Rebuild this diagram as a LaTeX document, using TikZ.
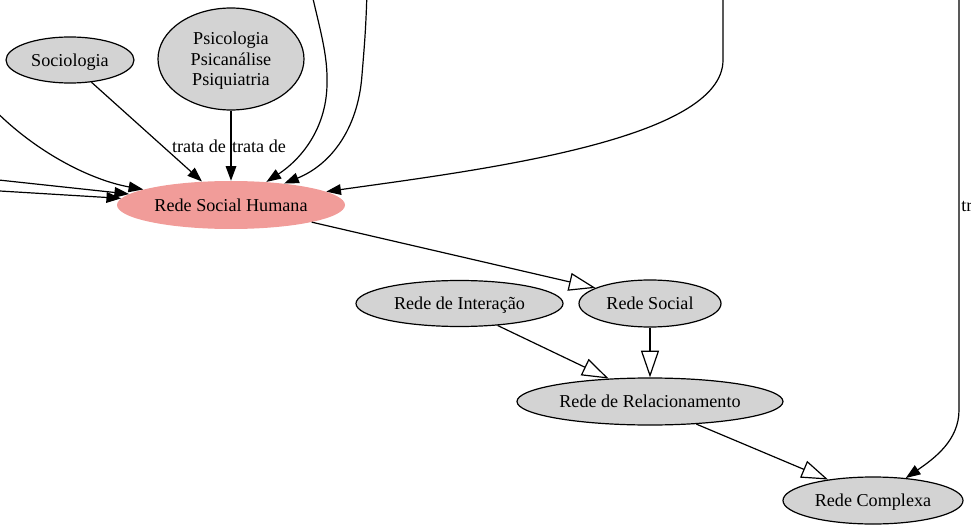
\documentclass[tikz,border=0pt]{standalone}
\usepackage{fontspec}
\setmainfont{Liberation Serif}
\usetikzlibrary{shapes.geometric,arrows.meta}
\definecolor{nodegray}{HTML}{D3D3D3}
\definecolor{humanpink}{HTML}{F19C99}
\begin{document}
\begin{tikzpicture}[x=0.75pt,y=-0.75pt,
  font=\fontsize{13.6}{15.5}\selectfont,
  concept/.style={ellipse,draw,line width=0.9pt,fill=nodegray,inner sep=0pt,align=center,text depth=0pt},
  focus/.style={ellipse,fill=humanpink,inner sep=0pt,text depth=0pt},
  rel/.style={line width=0.9pt,-{Triangle[length=11pt,width=8pt]}},
  isa/.style={line width=0.9pt,-{Triangle[open,length=20pt,width=13.5pt]}},
  lbl/.style={inner sep=0pt}]
\useasboundingbox (0,0) rectangle (971,531);
\clip (0,0) rectangle (971,531);

% Nodes
\node[concept,minimum width=96pt,minimum height=34.5pt] (soc) at (70,60) {Sociologia};
\node[concept,minimum width=109.5pt,minimum height=76.5pt] (psi) at (231,59) {Psicologia\\Psicanálise\\Psiquiatria};
\node[focus,minimum width=171pt,minimum height=36pt] (rsh) at (231,205) {Rede Social Humana};
\node[concept,minimum width=106.5pt,minimum height=35.25pt] (rsoc) at (650,303.5) {Rede Social};
\node[concept,minimum width=155.25pt,minimum height=34.5pt] (rint) at (459.5,303.5) {Rede de Interação};
\node[concept,minimum width=199.5pt,minimum height=35.25pt] (rrel) at (650,401.5) {Rede de Relacionamento};
\node[concept,minimum width=135pt,minimum height=35.25pt] (rcx) at (873,500.5) {Rede Complexa};

% Edges coming in from outside the frame
\coordinate (inL1) at (-15,100);
\coordinate (inL2) at (-20,178);
\coordinate (inL3) at (-20,189.8);
\coordinate (inT1) at (311,-10);
\coordinate (inT2) at (367,-10);
\coordinate (inT3) at (723,-10);
\coordinate (inR) at (959,-10);

\draw[rel] (inL1) .. controls (30,150) and (90,180) .. (rsh);
\draw[rel] (inL2) -- (rsh);
\draw[rel] (inL3) -- (rsh);
\draw[rel] (inT1) .. controls (320,30) and (328,55) .. (327,85) .. controls (326,130) and (300,160) .. (rsh);
\draw[rel] (inT2) .. controls (366,30) and (364,50) .. (362,75) .. controls (358,130) and (330,165) .. (rsh);
\draw[rel] (inT3) -- (723,60) .. controls (723,140) and (480,170) .. (rsh);
\draw[rel] (inR) -- (959,410) .. controls (959,440) and (935,458) .. (rcx);

% trata de
\draw[rel] (soc.-46) -- (rsh.141.6);
\draw[rel] (psi) -- (rsh);
\node[lbl] (t1) at (199,146) {trata de};
\node[lbl] (t2) at (259,146) {trata de};
\node[lbl,anchor=west] (t3) at (961,205) {trata de};

% Specialisation
\draw[isa] (rsh.-12) -- (rsoc.164);
\draw[isa] (rsoc) -- (rrel);
\draw[isa] (rint.-30) -- (rrel.151);
\draw[isa] (rrel.-26) -- (rcx.155);
\end{tikzpicture}
\end{document}
